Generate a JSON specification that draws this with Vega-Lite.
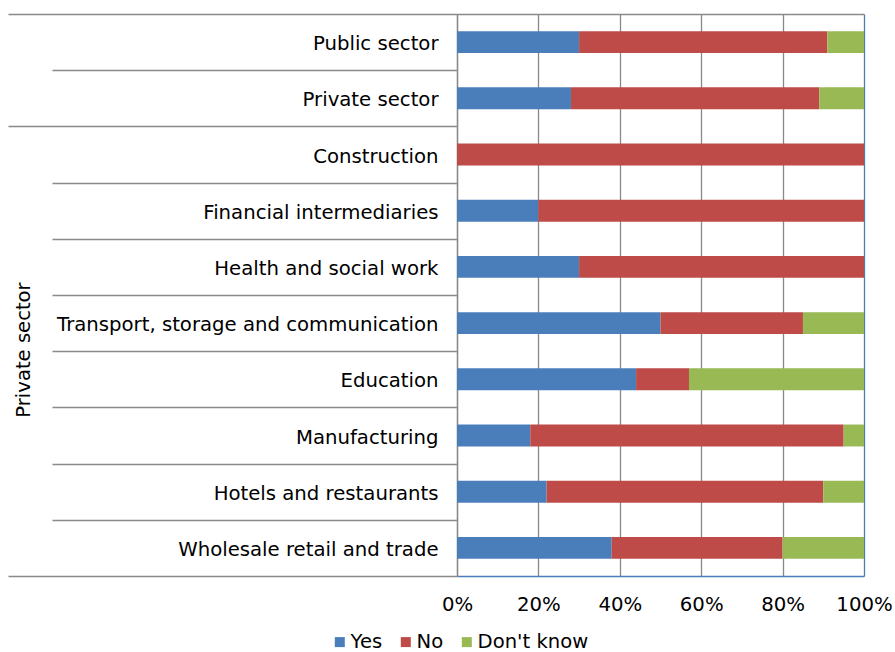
{
  "$schema": "https://vega.github.io/schema/vega-lite/v6.json",
  "autosize": {"type": "none"},
  "padding": {"left": 457, "top": 14, "right": 31, "bottom": 76},
  "width": 407,
  "height": 562,
  "config": {
    "font": "DejaVu Sans",
    "view": {"stroke": null},
    "axis": {"labelColor": "#000000", "labelFontSize": 19.7, "titleColor": "#000000", "titleFontSize": 19.6, "titleFontWeight": "normal"},
    "legend": {"labelColor": "#000000", "labelFontSize": 19.6}
  },
  "data": {
    "values": [
      {"cat": "Public sector", "resp": "Yes", "o": 1, "v": 30},
      {"cat": "Public sector", "resp": "No", "o": 2, "v": 61},
      {"cat": "Public sector", "resp": "Don't know", "o": 3, "v": 9},
      {"cat": "Private sector", "resp": "Yes", "o": 1, "v": 28},
      {"cat": "Private sector", "resp": "No", "o": 2, "v": 61},
      {"cat": "Private sector", "resp": "Don't know", "o": 3, "v": 11},
      {"cat": "Construction", "resp": "Yes", "o": 1, "v": 0},
      {"cat": "Construction", "resp": "No", "o": 2, "v": 100},
      {"cat": "Construction", "resp": "Don't know", "o": 3, "v": 0},
      {"cat": "Financial intermediaries", "resp": "Yes", "o": 1, "v": 20},
      {"cat": "Financial intermediaries", "resp": "No", "o": 2, "v": 80},
      {"cat": "Financial intermediaries", "resp": "Don't know", "o": 3, "v": 0},
      {"cat": "Health and social work", "resp": "Yes", "o": 1, "v": 30},
      {"cat": "Health and social work", "resp": "No", "o": 2, "v": 70},
      {"cat": "Health and social work", "resp": "Don't know", "o": 3, "v": 0},
      {"cat": "Transport, storage and communication", "resp": "Yes", "o": 1, "v": 50},
      {"cat": "Transport, storage and communication", "resp": "No", "o": 2, "v": 35},
      {"cat": "Transport, storage and communication", "resp": "Don't know", "o": 3, "v": 15},
      {"cat": "Education", "resp": "Yes", "o": 1, "v": 44},
      {"cat": "Education", "resp": "No", "o": 2, "v": 13},
      {"cat": "Education", "resp": "Don't know", "o": 3, "v": 43},
      {"cat": "Manufacturing", "resp": "Yes", "o": 1, "v": 18},
      {"cat": "Manufacturing", "resp": "No", "o": 2, "v": 77},
      {"cat": "Manufacturing", "resp": "Don't know", "o": 3, "v": 5},
      {"cat": "Hotels and restaurants", "resp": "Yes", "o": 1, "v": 22},
      {"cat": "Hotels and restaurants", "resp": "No", "o": 2, "v": 68},
      {"cat": "Hotels and restaurants", "resp": "Don't know", "o": 3, "v": 10},
      {"cat": "Wholesale retail and trade", "resp": "Yes", "o": 1, "v": 38},
      {"cat": "Wholesale retail and trade", "resp": "No", "o": 2, "v": 42},
      {"cat": "Wholesale retail and trade", "resp": "Don't know", "o": 3, "v": 20}
    ]
  },
  "layer": [
    {
      "mark": {"type": "bar"},
      "encoding": {
        "y": {
          "field": "cat", "type": "nominal", "sort": null,
          "scale": {"paddingInner": 0.61, "paddingOuter": 0.305},
          "axis": {
            "orient": "left", "ticks": false, "domain": false, "grid": false,
            "labelPadding": 19, "labelLimit": 500, "labelOffset": 2,
            "title": "Private sector", "titleAngle": -90, "titleX": -434, "titleY": 335.5,
            "titleAlign": "center", "titleBaseline": "middle"
          }
        },
        "x": {
          "field": "v", "type": "quantitative", "stack": "normalize",
          "scale": {"domain": [0, 1], "nice": false},
          "axis": {
            "title": null, "values": [0, 0.2, 0.4, 0.6, 0.8, 1], "format": ".0%",
            "ticks": false, "labelPadding": 18, "labelFlush": false,
            "domainColor": "#4a7ebb", "domainWidth": 1.5,
            "grid": true, "gridWidth": 1.3,
            "gridColor": {"condition": {"test": "datum.value >= 1", "value": "#4a7ebb"}, "value": "#898989"}
          }
        },
        "color": {
          "field": "resp", "type": "nominal",
          "scale": {"domain": ["Yes", "No", "Don't know"], "range": ["#4a7ebb", "#be4b48", "#98b954"]},
          "legend": {
            "title": null, "orient": "none", "direction": "horizontal",
            "legendX": -127, "legendY": 618, "padding": 0,
            "symbolType": "square", "symbolSize": 100, "symbolStrokeWidth": 0,
            "labelOffset": 1, "columnPadding": 13
          }
        },
        "order": {"field": "o", "type": "quantitative"}
      }
    },
    {
      "mark": {"type": "bar", "opacity": 0},
      "encoding": {
        "y": {
          "field": "cat", "type": "nominal", "sort": null,
          "axis": {
            "orient": "left", "title": null, "labels": false, "bandPosition": 0.5, "tickOffset": -28.1,
            "ticks": true, "tickSize": 449, "tickColor": "#898989", "tickWidth": 1.3,
            "tickDash": {"condition": {"test": "datum.value === 'Public sector' || datum.value === 'Construction'", "value": [449, 1]}, "value": [405, 100]},
            "domain": true, "domainColor": "#898989", "domainWidth": 1.3,
            "grid": true, "gridColor": "#898989", "gridWidth": 1.3,
            "gridOpacity": {"condition": {"test": "datum.value === 'Public sector'", "value": 1}, "value": 0}
          }
        }
      }
    },
    {
      "mark": {"type": "bar", "opacity": 0},
      "encoding": {
        "y": {
          "field": "cat", "type": "nominal", "sort": null,
          "axis": {
            "orient": "left", "title": null, "labels": false, "bandPosition": 0.5, "tickOffset": 28.1,
            "ticks": true, "tickSize": 449, "tickColor": "#898989", "tickWidth": 1.3,
            "tickOpacity": {"condition": {"test": "datum.value === 'Wholesale retail and trade'", "value": 1}, "value": 0},
            "domain": false, "grid": false
          }
        }
      }
    }
  ],
  "resolve": {"axis": {"y": "independent"}}
}
